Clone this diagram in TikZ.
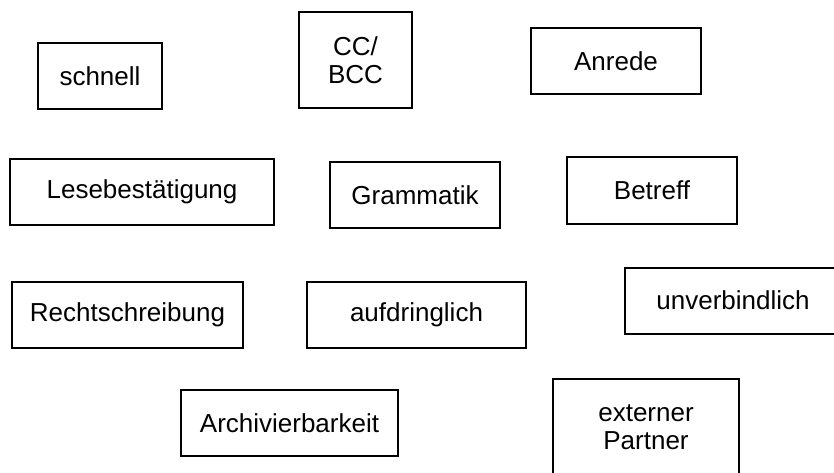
\documentclass[tikz,border=0pt]{standalone}
\usepackage{fontspec}
\setmainfont{Liberation Sans}
\begin{document}
\begin{tikzpicture}[x=1pt, y=-1pt, line width=2pt]
\tikzstyle{term}=[draw,rectangle,inner sep=0pt,align=center,font=\fontsize{26}{28}\selectfont]
  \clip (0,0) rectangle (834,473);
  \foreach \place/\name/\w/\txt in {{(100,76.5)/schnell/124/schnell},
                                    {(616,61)/anrede/170/Anrede},
                                    {(142,192)/lese/264/Lesebestätigung},
                                    {(415,195)/grammatik/170/Grammatik},
                                    {(652,190.5)/betreff/170/Betreff},
                                    {(127.5,314.5)/recht/231/Rechtschreibung},
                                    {(416.5,314.5)/aufdr/219/aufdringlich},
                                    {(733,300.5)/unverb/216/unverbindlich},
                                    {(289.5,423)/archiv/217/Archivierbarkeit}}
    \node[term, minimum width=\w pt, minimum height=66pt] (\name) at \place {\txt};
  \foreach \place/\name/\w/\txt in {{(355.5,60)/cc/113/{CC/\\BCC}},
                                    {(646,427)/extern/186/{externer\\Partner}}}
    \node[term, minimum width=\w pt, minimum height=96pt] (\name) at \place {\txt};
\end{tikzpicture}
\end{document}
